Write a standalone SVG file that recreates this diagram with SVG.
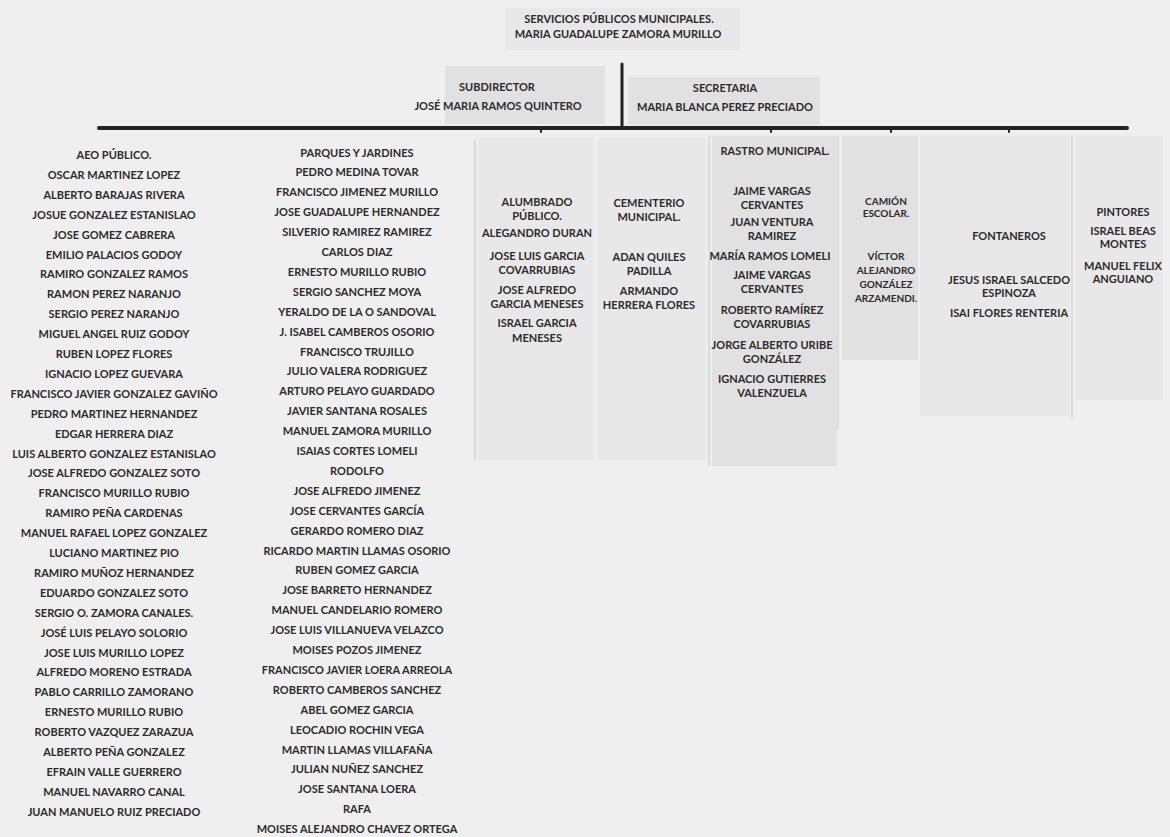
<svg xmlns="http://www.w3.org/2000/svg" width="1170" height="837" viewBox="0 0 1170 837">
<style>
.t{font-family:Lato,"Liberation Sans",sans-serif;font-weight:700;font-size:11px;fill:#2b2b2b;text-anchor:middle}
.s{font-size:10px}
.bx{fill:#e1e1e1}
.bx2{fill:#e8e8e8}
.vl{stroke:#c8c8c8;stroke-width:1;fill:none}
.cn{stroke:#222;fill:none;stroke-linecap:round}
</style>
<rect width="1170" height="837" fill="#efefef"/>
<g id="shading">
<rect class="bx2" x="505" y="8" width="235" height="42"/>
<rect class="bx" x="445" y="66" width="160" height="58"/>
<rect class="bx" x="628" y="77" width="192" height="48"/>
<rect class="bx2" x="478" y="138" width="115" height="322"/>
<rect class="bx2" x="598" y="138" width="108" height="322"/>
<rect class="bx" x="712" y="136" width="125" height="330"/>
<rect class="bx" x="842" y="136" width="76" height="224"/>
<rect class="bx2" x="920" y="136" width="150" height="280"/>
<rect class="bx2" x="1075" y="136" width="88" height="264"/>
<line class="vl" x1="475" y1="140" x2="475" y2="460"/>
<line class="vl" x1="709" y1="136" x2="709" y2="466"/>
<line class="vl" x1="838" y1="136" x2="838" y2="430"/>
<line class="vl" x1="1072" y1="136" x2="1072" y2="420"/>
</g>
<g id="connectors">
<line class="cn" x1="622" y1="64" x2="622" y2="128" stroke-width="3"/>
<line class="cn" x1="99" y1="128" x2="1127" y2="128" stroke-width="4"/>
<line class="cn" x1="541" y1="128" x2="541" y2="132" stroke-width="2"/>
<line class="cn" x1="771" y1="128" x2="771" y2="132" stroke-width="2"/>
<line class="cn" x1="891" y1="128" x2="891" y2="132" stroke-width="2"/>
<line class="cn" x1="1009" y1="128" x2="1009" y2="132" stroke-width="2"/>
</g>
<g id="director" class="t">
<text x="619" y="23">SERVICIOS PÚBLICOS MUNICIPALES.</text>
<text x="618" y="38">MARIA GUADALUPE ZAMORA MURILLO</text>
</g>
<g id="subdirector" class="t">
<text x="497" y="91">SUBDIRECTOR</text>
<text x="498" y="110">JOSÉ MARIA RAMOS QUINTERO</text>
</g>
<g id="secretaria" class="t">
<text x="725" y="92">SECRETARIA</text>
<text x="725" y="111">MARIA BLANCA PEREZ PRECIADO</text>
</g>
<g id="aseo" class="t">
<text x="114" y="159">AEO PÚBLICO.</text>
<text x="114" y="178.9">OSCAR MARTINEZ LOPEZ</text>
<text x="114" y="198.8">ALBERTO BARAJAS RIVERA</text>
<text x="114" y="218.7">JOSUE GONZALEZ ESTANISLAO</text>
<text x="114" y="238.6">JOSE GOMEZ CABRERA</text>
<text x="114" y="258.5">EMILIO PALACIOS GODOY</text>
<text x="114" y="278.4">RAMIRO GONZALEZ RAMOS</text>
<text x="114" y="298.3">RAMON PEREZ NARANJO</text>
<text x="114" y="318.2">SERGIO PEREZ NARANJO</text>
<text x="114" y="338.1">MIGUEL ANGEL RUIZ GODOY</text>
<text x="114" y="358">RUBEN LOPEZ FLORES</text>
<text x="114" y="377.9">IGNACIO LOPEZ GUEVARA</text>
<text x="114" y="397.8">FRANCISCO JAVIER GONZALEZ GAVIÑO</text>
<text x="114" y="417.7">PEDRO MARTINEZ HERNANDEZ</text>
<text x="114" y="437.6">EDGAR HERRERA DIAZ</text>
<text x="114" y="457.5">LUIS ALBERTO GONZALEZ ESTANISLAO</text>
<text x="114" y="477.4">JOSE ALFREDO GONZALEZ SOTO</text>
<text x="114" y="497.3">FRANCISCO MURILLO RUBIO</text>
<text x="114" y="517.2">RAMIRO PEÑA CARDENAS</text>
<text x="114" y="537.1">MANUEL RAFAEL LOPEZ GONZALEZ</text>
<text x="114" y="557">LUCIANO MARTINEZ PIO</text>
<text x="114" y="576.9">RAMIRO MUÑOZ HERNANDEZ</text>
<text x="114" y="596.8">EDUARDO GONZALEZ SOTO</text>
<text x="114" y="616.7">SERGIO O. ZAMORA CANALES.</text>
<text x="114" y="636.6">JOSÉ LUIS PELAYO SOLORIO</text>
<text x="114" y="656.5">JOSE LUIS MURILLO LOPEZ</text>
<text x="114" y="676.4">ALFREDO MORENO ESTRADA</text>
<text x="114" y="696.3">PABLO CARRILLO ZAMORANO</text>
<text x="114" y="716.2">ERNESTO MURILLO RUBIO</text>
<text x="114" y="736.1">ROBERTO VAZQUEZ ZARAZUA</text>
<text x="114" y="756">ALBERTO PEÑA GONZALEZ</text>
<text x="114" y="775.9">EFRAIN VALLE GUERRERO</text>
<text x="114" y="795.8">MANUEL NAVARRO CANAL</text>
<text x="114" y="815.7">JUAN MANUELO RUIZ PRECIADO</text>
</g>
<g id="parques" class="t">
<text x="357" y="156.5">PARQUES Y JARDINES</text>
<text x="357" y="176.4">PEDRO MEDINA TOVAR</text>
<text x="357" y="196.3">FRANCISCO JIMENEZ MURILLO</text>
<text x="357" y="216.2">JOSE GUADALUPE HERNANDEZ</text>
<text x="357" y="236.1">SILVERIO RAMIREZ RAMIREZ</text>
<text x="357" y="256">CARLOS DIAZ</text>
<text x="357" y="275.9">ERNESTO MURILLO RUBIO</text>
<text x="357" y="295.8">SERGIO SANCHEZ MOYA</text>
<text x="357" y="315.7">YERALDO DE LA O SANDOVAL</text>
<text x="357" y="335.6">J. ISABEL CAMBEROS OSORIO</text>
<text x="357" y="355.5">FRANCISCO TRUJILLO</text>
<text x="357" y="375.4">JULIO VALERA RODRIGUEZ</text>
<text x="357" y="395.3">ARTURO PELAYO GUARDADO</text>
<text x="357" y="415.2">JAVIER SANTANA ROSALES</text>
<text x="357" y="435.1">MANUEL ZAMORA MURILLO</text>
<text x="357" y="455">ISAIAS CORTES LOMELI</text>
<text x="357" y="474.9">RODOLFO</text>
<text x="357" y="494.8">JOSE ALFREDO JIMENEZ</text>
<text x="357" y="514.7">JOSE CERVANTES GARCÍA</text>
<text x="357" y="534.6">GERARDO ROMERO DIAZ</text>
<text x="357" y="554.5">RICARDO MARTIN LLAMAS OSORIO</text>
<text x="357" y="574.4">RUBEN GOMEZ GARCIA</text>
<text x="357" y="594.3">JOSE BARRETO HERNANDEZ</text>
<text x="357" y="614.2">MANUEL CANDELARIO ROMERO</text>
<text x="357" y="634.1">JOSE LUIS VILLANUEVA VELAZCO</text>
<text x="357" y="654">MOISES POZOS JIMENEZ</text>
<text x="357" y="673.9">FRANCISCO JAVIER LOERA ARREOLA</text>
<text x="357" y="693.8">ROBERTO CAMBEROS SANCHEZ</text>
<text x="357" y="713.7">ABEL GOMEZ GARCIA</text>
<text x="357" y="733.6">LEOCADIO ROCHIN VEGA</text>
<text x="357" y="753.5">MARTIN LLAMAS VILLAFAÑA</text>
<text x="357" y="773.4">JULIAN NUÑEZ SANCHEZ</text>
<text x="357" y="793.3">JOSE SANTANA LOERA</text>
<text x="357" y="813.2">RAFA</text>
<text x="357" y="833">MOISES ALEJANDRO CHAVEZ ORTEGA</text>
</g>
<g id="alumbrado" class="t">
<text x="537" y="206">ALUMBRADO</text>
<text x="537" y="220">PÚBLICO.</text>
<text x="537" y="237">ALEGANDRO DURAN</text>
<text x="537" y="260">JOSE LUIS GARCIA</text>
<text x="537" y="274">COVARRUBIAS</text>
<text x="537" y="294">JOSE ALFREDO</text>
<text x="537" y="308">GARCIA MENESES</text>
<text x="537" y="327">ISRAEL GARCIA</text>
<text x="537" y="342">MENESES</text>
</g>
<g id="cementerio" class="t">
<text x="649" y="207">CEMENTERIO</text>
<text x="649" y="221">MUNICIPAL.</text>
<text x="649" y="261">ADAN QUILES</text>
<text x="649" y="275">PADILLA</text>
<text x="649" y="295">ARMANDO</text>
<text x="649" y="309">HERRERA FLORES</text>
</g>
<g id="rastro" class="t">
<text x="775" y="155">RASTRO MUNICIPAL.</text>
<text x="772" y="194.5">JAIME VARGAS</text>
<text x="772" y="208.5">CERVANTES</text>
<text x="772" y="226">JUAN VENTURA</text>
<text x="772" y="240">RAMIREZ</text>
<text x="770" y="260">MARÍA RAMOS LOMELI</text>
<text x="772" y="278.5">JAIME VARGAS</text>
<text x="772" y="292.5">CERVANTES</text>
<text x="772" y="314">ROBERTO RAMÍREZ</text>
<text x="772" y="328">COVARRUBIAS</text>
<text x="772" y="348.5">JORGE ALBERTO URIBE</text>
<text x="772" y="362.5">GONZÁLEZ</text>
<text x="772" y="383">IGNACIO GUTIERRES</text>
<text x="772" y="397">VALENZUELA</text>
</g>
<g id="camion" class="t s">
<text x="886" y="204.5">CAMIÓN</text>
<text x="886" y="217">ESCOLAR.</text>
<text x="886" y="260">VÍCTOR</text>
<text x="886" y="274">ALEJANDRO</text>
<text x="886" y="288">GONZÁLEZ</text>
<text x="886" y="302">ARZAMENDI.</text>
</g>
<g id="fontaneros" class="t">
<text x="1009" y="240">FONTANEROS</text>
<text x="1009" y="283.5">JESUS ISRAEL SALCEDO</text>
<text x="1009" y="297">ESPINOZA</text>
<text x="1009" y="316.5">ISAI FLORES RENTERIA</text>
</g>
<g id="pintores" class="t">
<text x="1123" y="215.5">PINTORES</text>
<text x="1123" y="234.5">ISRAEL  BEAS</text>
<text x="1123" y="247.5">MONTES</text>
<text x="1123" y="269.5">MANUEL FELIX</text>
<text x="1123" y="282.5">ANGUIANO</text>
</g>
</svg>
